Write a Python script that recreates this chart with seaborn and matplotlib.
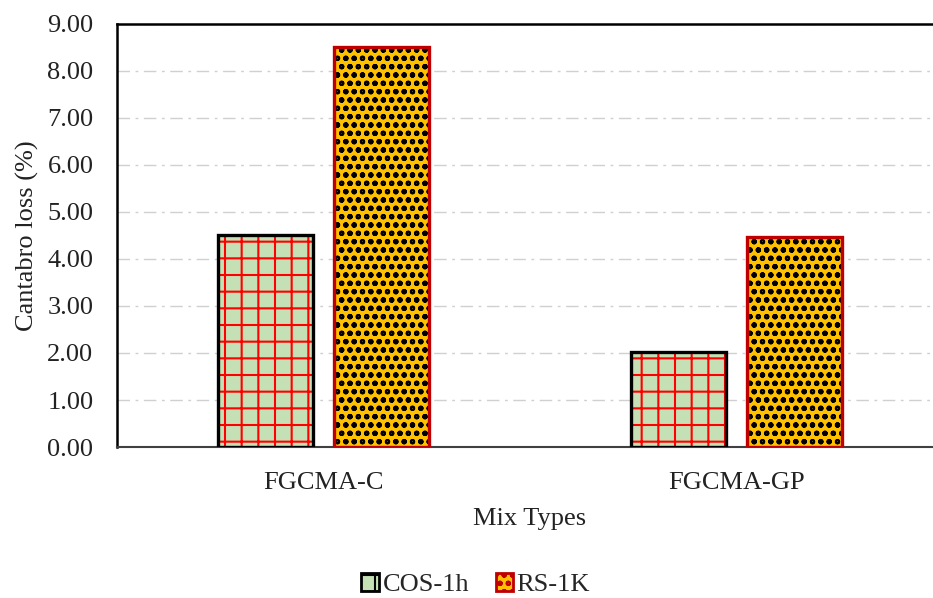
import pandas as pd
import matplotlib
matplotlib.use('Agg')
import matplotlib.pyplot as plt
from matplotlib.patches import Rectangle, Patch
import seaborn as sns

# Datos del gráfico
mezclas = ['FGCMA-C', 'FGCMA-GP']
series = ['COS-1h', 'RS-1K']
cos_1h = [4.52, 2.02]
rs_1k = [8.50, 4.47]

dados = pd.DataFrame({
    'mezcla': mezclas * 2,
    'serie': [series[0]] * 2 + [series[1]] * 2,
    'valor': cos_1h + rs_1k,
})

sns.set_style('white')
plt.rcParams['font.family'] = ['Liberation Serif', 'DejaVu Serif']
plt.rcParams['hatch.linewidth'] = 1.5

fig = plt.figure(figsize=(9.33, 5.98), dpi=100)
ax = fig.add_axes([0.1254, 0.2525, 0.8853, 0.7074])

relleno = {'COS-1h': '#C5E0B4', 'RS-1K': '#FFC000'}
borde = {'COS-1h': 'black', 'RS-1K': '#C00000'}
trama_color = {'COS-1h': '#FF0000', 'RS-1K': 'black'}
trama = {'COS-1h': '+', 'RS-1K': 'oo'}

sns.barplot(data=dados, x='mezcla', y='valor', hue='serie', order=mezclas,
            hue_order=series, palette=relleno, width=0.56, gap=0.18,
            saturation=1, legend=False, ax=ax, zorder=3)

# Trama y borde de cada barra
for serie, cont in zip(series, ax.containers):
    for barra in cont:
        barra.set_hatch(trama[serie])
        barra.set_edgecolor(trama_color[serie])
        barra.set_linewidth(0)
        ax.add_patch(Rectangle(barra.get_xy(), barra.get_width(), barra.get_height(),
                               fill=False, edgecolor=borde[serie], linewidth=2.4,
                               zorder=4))

ax.set_xlim(-0.5, 1.5)
ax.set_ylim(0, 9)
ax.set_yticks([i for i in range(10)])
ax.set_yticklabels([f'{i:.2f}' for i in range(10)])
ax.yaxis.grid(True, color='#D0D0D0', linewidth=1.0, linestyle=(0, (9, 4, 2, 4)), zorder=0)
ax.xaxis.grid(False)
ax.tick_params(axis='both', length=0, labelsize=19, colors='#222222')
ax.tick_params(axis='y', pad=17)
ax.tick_params(axis='x', pad=18)

for lado in ['left', 'top']:
    ax.spines[lado].set_color('black')
    ax.spines[lado].set_linewidth(1.8)
ax.spines['bottom'].set_color('#404040')
ax.spines['bottom'].set_linewidth(1.5)
ax.spines['right'].set_visible(False)

ax.set_xlabel('Mix Types', fontsize=19, labelpad=10, color='#222222')
ax.set_ylabel('Cantabro loss (%)', fontsize=19, labelpad=6, color='#222222')

handles = [Patch(facecolor=relleno[s], edgecolor=borde[s], hatch=trama[s], linewidth=2.0)
           for s in series]
fig.legend(handles, series, loc='center', bbox_to_anchor=(0.51, 0.022), ncol=2,
           frameon=False, fontsize=19, handlelength=0.65, handleheight=0.65,
           handletextpad=0.15, columnspacing=1.0, borderpad=0.1)

plt.savefig('out.png', dpi=100)
